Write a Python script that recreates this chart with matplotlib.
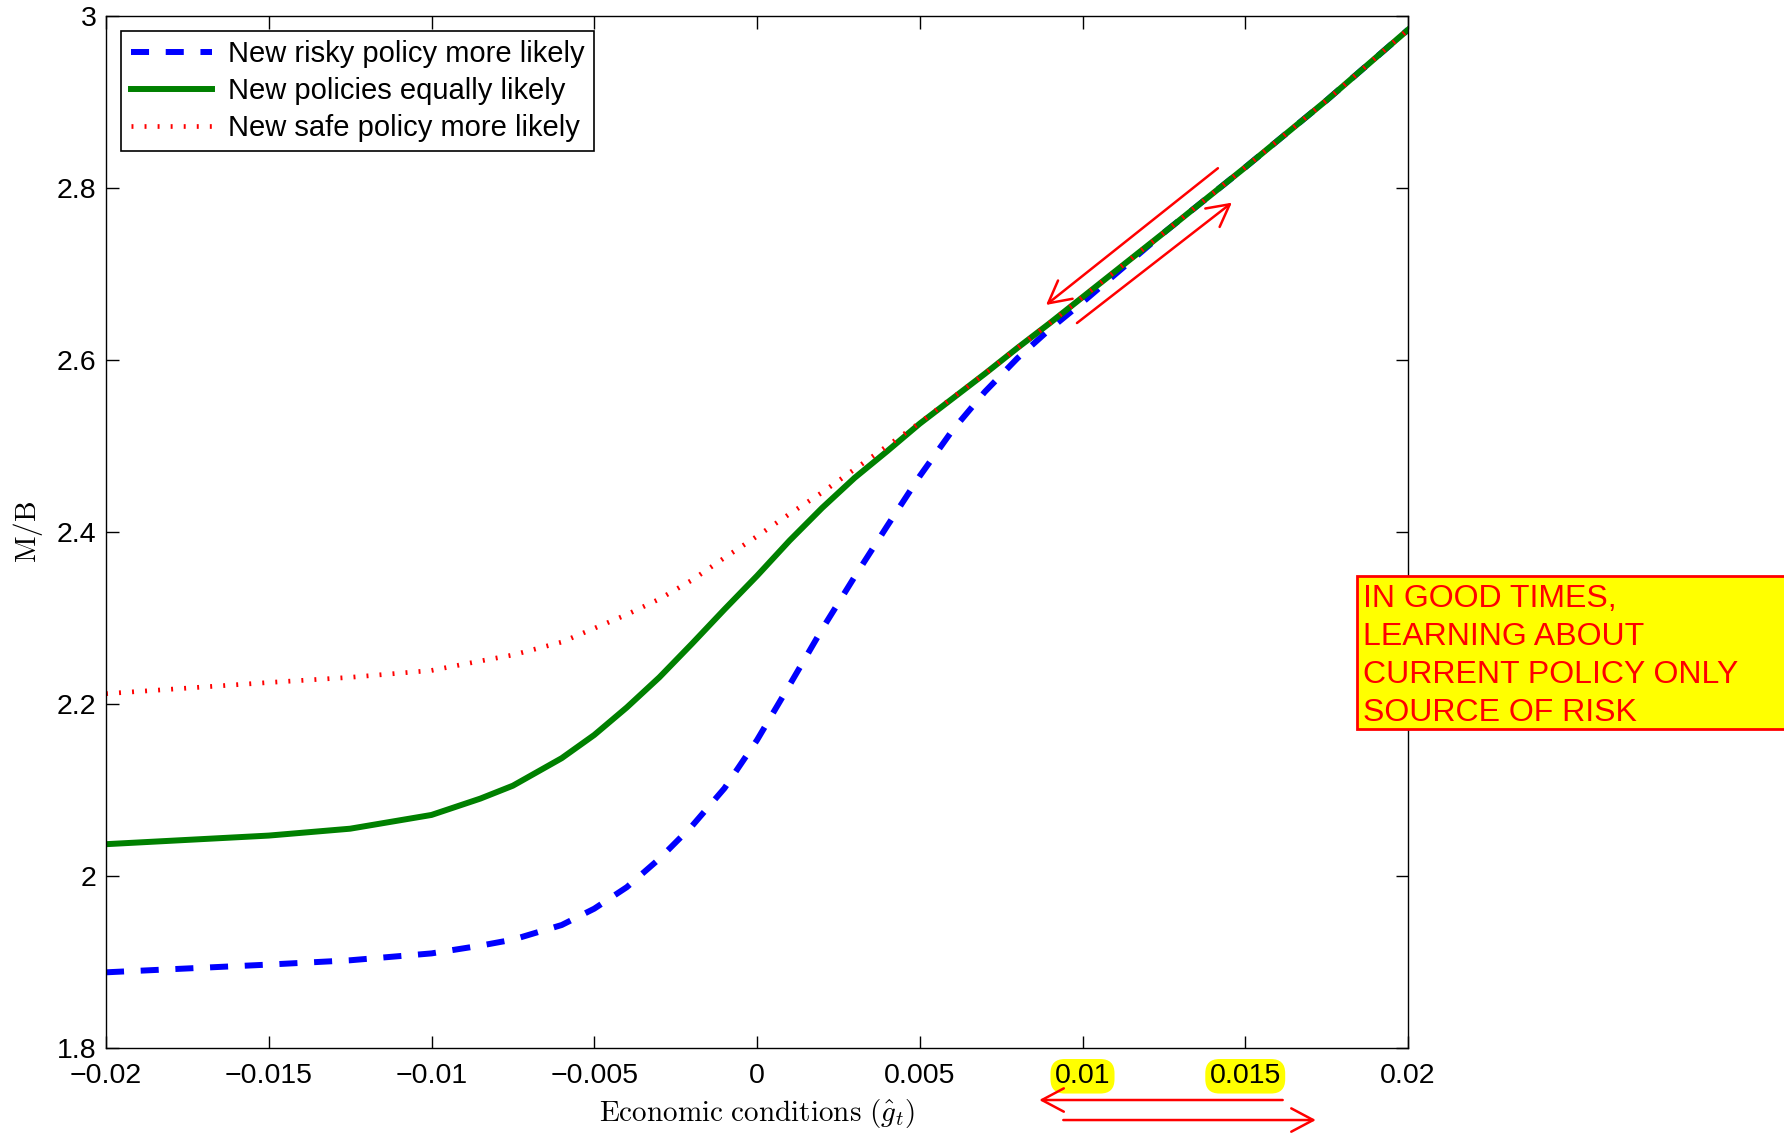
import matplotlib
matplotlib.use("Agg")
import matplotlib.pyplot as plt
from matplotlib.patches import Rectangle

plt.rcParams['font.family'] = ['Liberation Sans', 'DejaVu Sans']
plt.rcParams['mathtext.fontset'] = 'cm'
plt.rcParams['lines.scale_dashes'] = False

# economic conditions grid (g hat)
g_hat = [-0.02, -0.015, -0.0125, -0.01, -0.0085, -0.0075, -0.006, -0.005, -0.004,
         -0.003, -0.002, -0.001, 0.0, 0.001, 0.002, 0.003, 0.004, 0.005, 0.006,
         0.007, 0.008, 0.009, 0.01, 0.0125, 0.015, 0.0175, 0.02]

mb_risky = [1.888, 1.897, 1.902, 1.910, 1.919, 1.926, 1.943, 1.962, 1.987,
            2.020, 2.058, 2.102, 2.158, 2.222, 2.287, 2.348, 2.407, 2.465, 2.518,
            2.563, 2.602, 2.636, 2.667, 2.748, 2.824, 2.902, 2.984]
mb_equal = [2.037, 2.047, 2.055, 2.071, 2.090, 2.105, 2.137, 2.164, 2.196,
            2.231, 2.270, 2.310, 2.349, 2.390, 2.428, 2.463, 2.494, 2.526, 2.555,
            2.584, 2.614, 2.643, 2.673, 2.748, 2.824, 2.902, 2.984]
mb_safe = [2.212, 2.225, 2.231, 2.239, 2.250, 2.257, 2.272, 2.288, 2.304,
           2.322, 2.344, 2.370, 2.395, 2.421, 2.446, 2.473, 2.500, 2.527, 2.556,
           2.584, 2.614, 2.643, 2.673, 2.748, 2.824, 2.902, 2.984]

series_labels = ['New risky policy more likely', 'New policies equally likely',
                 'New safe policy more likely']

x_ticks = [-0.02, -0.015, -0.01, -0.005, 0, 0.005, 0.01, 0.015, 0.02]
y_ticks = [1.8, 2.0, 2.2, 2.4, 2.6, 2.8, 3.0]
highlighted = ['0.01', '0.015']

note_lines = ['IN GOOD TIMES,', 'LEARNING ABOUT', 'CURRENT POLICY ONLY', 'SOURCE OF RISK']


def fmt(v):
    return ('%g' % v).replace('-', '\u2212')


fig = plt.figure(figsize=(17.84, 11.33), dpi=100)
W, H = 1784.0, 1133.0
ax = fig.add_axes([106 / W, 1 - 1048 / H, 1302 / W, 1032 / H])

ax.plot(g_hat, mb_risky, color='blue', lw=4.3, dashes=(13, 12), label=series_labels[0])
ax.plot(g_hat, mb_equal, color=(0, 0.5, 0), lw=4.3, label=series_labels[1])
ax.plot(g_hat, mb_safe, color='red', lw=3.4, dashes=(1.4, 8.0), label=series_labels[2])

ax.set_xlim(-0.02, 0.02)
ax.set_ylim(1.8, 3.0)
ax.set_xticks(x_ticks, labels=[fmt(v) for v in x_ticks])
ax.set_yticks(y_ticks, labels=[fmt(v) for v in y_ticks])
ax.tick_params(direction='in', length=9, width=1, top=True, right=True, labelsize=20.5)
ax.tick_params(axis='x', pad=11)
ax.tick_params(axis='y', pad=7)
for s in ax.spines.values():
    s.set_linewidth(1.0)

for lbl in ax.get_xticklabels():
    if lbl.get_text() in highlighted:
        lbl.set_bbox(dict(boxstyle='round,pad=0.15,rounding_size=0.5', fc='yellow', ec='none'))

ax.set_xlabel(r'$\mathrm{Economic\ conditions\ }(\hat{g}_t)$', fontsize=21)
ax.set_ylabel(r'$\mathrm{M/B}$', fontsize=21)
ax.xaxis.set_label_coords(0.5, -0.047)
ax.yaxis.set_label_coords(-0.047, 0.5)

leg = ax.legend(loc='upper left', fontsize=21, frameon=True, fancybox=False,
                edgecolor='black', framealpha=1, handlelength=2.8, handletextpad=0.55,
                labelspacing=0.3, borderpad=0.32, borderaxespad=0.52)
leg.get_frame().set_linewidth(1.2)

# arrows along the curve
arrow_kw = dict(arrowstyle='->,head_length=1.58,head_width=0.84', color='red',
                lw=1.8, shrinkA=0, shrinkB=0, mutation_scale=10)
ax.annotate('', xy=(0.00888, 2.664), xytext=(0.01416, 2.823), arrowprops=arrow_kw)
ax.annotate('', xy=(0.01459, 2.783), xytext=(0.00983, 2.643), arrowprops=arrow_kw)
# arrows under the tick labels
ax.annotate('', xy=(0.00867, -0.0504), xytext=(0.01615, -0.0504),
            xycoords=('data', 'axes fraction'), textcoords=('data', 'axes fraction'),
            arrowprops=arrow_kw, annotation_clip=False)
ax.annotate('', xy=(0.01717, -0.0698), xytext=(0.00941, -0.0698),
            xycoords=('data', 'axes fraction'), textcoords=('data', 'axes fraction'),
            arrowprops=arrow_kw, annotation_clip=False)

# yellow note box, runs off the right edge
box = Rectangle((1357 / W, 1 - 729 / H), (1800 - 1357) / W, 153 / H,
                transform=fig.transFigure, fc='yellow', ec='red', lw=2)
fig.add_artist(box)
for i, line in enumerate(note_lines):
    fig.text(1363 / W, 1 - (607 + 38 * i) / H, line, color='red', fontsize=23,
             ha='left', va='baseline')

fig.savefig('out.png', dpi=100)
